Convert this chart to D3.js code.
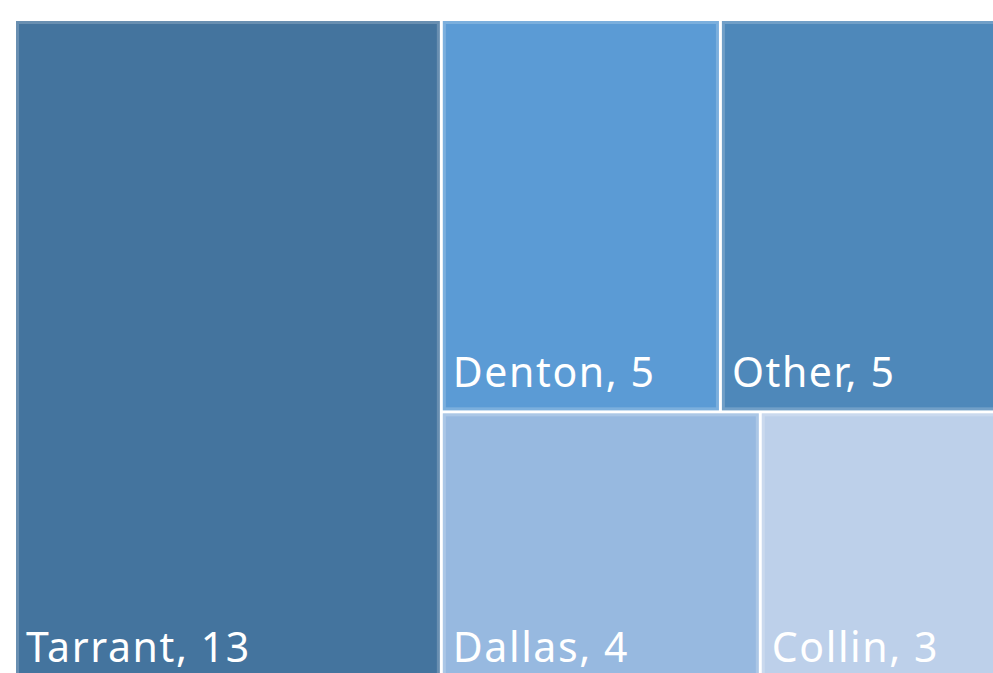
<!DOCTYPE html>
<html><head><meta charset="utf-8">
<script src="https://cdn.jsdelivr.net/npm/d3@7"></script>
<style>html,body{margin:0;padding:0;background:#fff;overflow:hidden}</style>
</head><body>
<svg id="chart" width="993" height="673"></svg>
<script>
const categories = ["Tarrant", "Denton", "Other", "Dallas", "Collin"];
const values = [13, 5, 5, 4, 3];
const colors = ["#44749e", "#5b9bd5", "#4e88ba", "#97b9e0", "#bdd0ea"];

const svg = d3.select("#chart");
const areaLeft = 16, areaTop = 21, areaRight = 998, areaBottom = 685;

const root = d3.hierarchy({children: categories.map((c, i) => ({name: c, value: values[i], color: colors[i]}))})
  .sum(d => d.value || 0)
  .sort((a, b) => b.value - a.value);

d3.treemap()
  .tile(d3.treemapSquarify.ratio(1))
  .size([areaRight - areaLeft, areaBottom - areaTop])
  .paddingInner(3)
  .round(false)(root);

const g = svg.append("g").attr("transform", `translate(${areaLeft},${areaTop})`);
const cell = g.selectAll("g").data(root.leaves()).join("g");
cell.append("rect")
  .attr("x", d => d.x0).attr("y", d => d.y0)
  .attr("width", d => d.x1 - d.x0).attr("height", d => d.y1 - d.y0)
  .attr("fill", d => d.data.color);
cell.append("rect")
  .attr("x", d => d.x0 + 1.5).attr("y", d => d.y0 + 1.5)
  .attr("width", d => d.x1 - d.x0 - 3).attr("height", d => d.y1 - d.y0 - 3)
  .attr("fill", "none")
  .attr("stroke", "rgba(255,255,255,0.2)").attr("stroke-width", 3);
cell.append("text")
  .attr("x", d => d.x0 + 10).attr("y", d => d.y1 - 23)
  .attr("fill", "#ffffff")
  .attr("font-family", "'Noto Sans', sans-serif")
  .attr("font-size", 41)
  .attr("letter-spacing", 1.6)
  .text(d => `${d.data.name}, ${d.data.value}`);
</script>
</body></html>
